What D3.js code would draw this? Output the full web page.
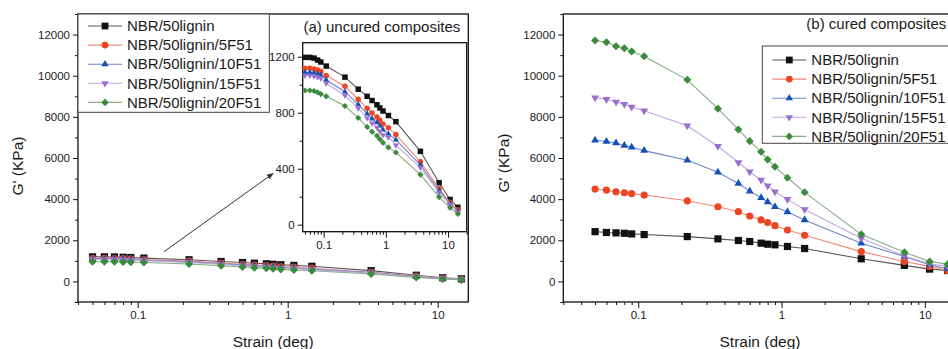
<!DOCTYPE html>
<html><head><meta charset="utf-8">
<script src="https://cdn.jsdelivr.net/npm/d3@7"></script>
<style>
html,body{margin:0;padding:0;background:#fff;}
text{font-family:"Liberation Sans",Arial,sans-serif;fill:#1a1a1a;}
</style></head>
<body><svg id="c" width="948" height="349"></svg>
<script>
// ---------- data ----------
const strain = [0.05,0.06,0.07,0.08,0.09,0.11,0.22,0.36,0.5,0.6,0.72,0.8,0.9,1.1,1.45,3.6,7.2,10.8,14.4];
const seriesNames = ["NBR/50lignin","NBR/50lignin/5F51","NBR/50lignin/10F51","NBR/50lignin/15F51","NBR/50lignin/20F51"];
// uncured composites, G' (KPa)
const uncured0  = [1195,1195,1190,1176,1162,1133,1054,968,917,887,857,834,812,780,736,524,300,180,124];
const uncured5  = [1118,1118,1113,1105,1096,1066,989,896,831,798,770,746,719,692,644,449,257,160,106];
const uncured10 = [1088,1088,1083,1076,1070,1033,950,858,793,757,730,706,678,649,606,428,242,150,97];
const uncured15 = [1066,1065,1060,1054,1046,1010,923,832,762,725,694,668,640,625,568,408,230,145,89];
const uncured20 = [959,959,955,945,933,917,848,763,699,664,635,611,586,552,516,358,197,121,76];
// cured composites, G' (KPa)
const cured0  = [2420,2380,2360,2340,2310,2280,2180,2070,1990,1940,1860,1810,1780,1700,1600,1100,780,600,530];
const cured5  = [4490,4440,4360,4310,4270,4200,3920,3630,3390,3180,2990,2860,2710,2500,2240,1450,970,730,530];
const cured10 = [6860,6800,6730,6610,6520,6360,5890,5310,4760,4390,4070,3860,3630,3380,2990,1860,1210,810,600];
const cured15 = [8930,8850,8720,8610,8480,8300,7570,6570,5780,5330,4930,4650,4360,3990,3500,2100,1240,860,730];
const cured20 = [11710,11630,11430,11340,11180,10950,9800,8400,7380,6820,6300,5930,5570,5040,4330,2290,1420,970,840];
// ticks
const yMajor = [0,2000,4000,6000,8000,10000,12000];
const yMinor = [-1000,1000,3000,5000,7000,9000,11000,13000];
const xMajor = [0.1,1,10];
const xMinor = [0.03,0.04,0.05,0.06,0.07,0.08,0.09,0.2,0.3,0.4,0.5,0.6,0.7,0.8,0.9,2,3,4,5,6,7,8,9,20];
const insetYMajor = [0,400,800,1200];
const insetYMinor = [200,600,1000];
// arrow annotation (data coords of main left panel)
const arrowFrom = [0.15,1450], arrowTo = [0.8,5250];

// ---------- styles ----------
const markerColors = ["#111111","#ee4422","#1550b5","#9a6fcf","#3a8c3a"];
const lineColors   = ["#555555","#f08a74","#6d86c8","#bfa6e0","#88aa88"];
const symbols = ["square","circle","triangle","triangleDown","diamond"];

const svg = d3.select("#c");

function symPath(kind, s){
  if(kind==="square") return d3.symbol(d3.symbolSquare, s*s)();
  if(kind==="circle") return d3.symbol(d3.symbolCircle, Math.PI*(s/2)*(s/2))();
  if(kind==="triangle"||kind==="triangleDown") return d3.symbol(d3.symbolTriangle, s*s*0.52)();
  if(kind==="diamond") return d3.symbol(d3.symbolSquare, s*s*0.62)();
}
function symTransform(kind){
  if(kind==="triangleDown") return " rotate(180)";
  if(kind==="diamond") return " rotate(45)";
  return "";
}

function drawSeries(g, x, y, data, msize){
  data.forEach((vals,i)=>{
    const pts = strain.map((s,j)=>[s,vals[j]]);
    g.append("path").attr("d", d3.line().x(d=>x(d[0])).y(d=>y(d[1]))(pts))
      .attr("fill","none").attr("stroke",lineColors[i]).attr("stroke-width",1.1);
    g.selectAll(null).data(pts).enter().append("path")
      .attr("d", symPath(symbols[i], msize))
      .attr("transform", d=>`translate(${x(d[0])},${y(d[1])})`+symTransform(symbols[i]))
      .attr("fill", markerColors[i]);
  });
}

function axes(g, x, y, ym, ymn, fs){
  const [x0,x1] = x.range(), [y1,y0] = y.range();
  g.append("g").attr("transform",`translate(0,${y1})`)
    .call(d3.axisBottom(x).tickValues(xMajor).tickFormat(d=>String(d)).tickSize(6).tickPadding(3));
  g.append("g").attr("transform",`translate(0,${y1})`)
    .call(d3.axisBottom(x).tickValues(xMinor.filter(v=>v>=x.domain()[0]&&v<=x.domain()[1])).tickFormat("").tickSize(3));
  g.append("g").attr("transform",`translate(${x0},0)`)
    .call(d3.axisLeft(y).tickValues(ym).tickFormat(d=>String(d)).tickSize(5).tickPadding(3));
  g.append("g").attr("transform",`translate(${x0},0)`)
    .call(d3.axisLeft(y).tickValues(ymn.filter(v=>v>=y.domain()[0]&&v<=y.domain()[1])).tickFormat("").tickSize(3));
  g.selectAll(".domain").remove();
  g.selectAll(".tick line").attr("stroke","#111").attr("stroke-width",1);
  g.selectAll(".tick text").attr("font-size",fs).attr("fill","#1a1a1a")
    .attr("font-family","'Liberation Sans',Arial,sans-serif");
  g.append("rect").attr("x",x0).attr("y",y0).attr("width",x1-x0).attr("height",y1-y0)
    .attr("fill","none").attr("stroke","#111").attr("stroke-width",1.3);
}

function legend(g, lx, ly, w, h, rowY0){
  g.append("rect").attr("x",lx).attr("y",ly).attr("width",w).attr("height",h)
    .attr("fill","#fff").attr("stroke","#444").attr("stroke-width",1);
  seriesNames.forEach((n,i)=>{
    const yy = ly + rowY0 + i*19.1;
    g.append("line").attr("x1",lx+10).attr("x2",lx+44).attr("y1",yy).attr("y2",yy)
      .attr("stroke",lineColors[i]).attr("stroke-width",1.1);
    g.append("path").attr("d",symPath(symbols[i],6.8))
      .attr("transform",`translate(${lx+27},${yy})`+symTransform(symbols[i])).attr("fill",markerColors[i]);
    g.append("text").attr("x",lx+49).attr("y",yy).attr("dy","0.35em").attr("font-size",15).text(n);
  });
}

// ---------- left panel (uncured) ----------
const uncured = [uncured0,uncured5,uncured10,uncured15,uncured20];
const cured = [cured0,cured5,cured10,cured15,cured20];

const L = {x0:78, x1:468.3, y0:14, y1:302};
const xL = d3.scaleLog().domain([0.04,16]).range([L.x0,L.x1]);
const yL = d3.scaleLinear().domain([-1000,13000]).range([L.y1,L.y0]);
const gL = svg.append("g");
axes(gL, xL, yL, yMajor, yMinor, 11.5);
drawSeries(gL, xL, yL, uncured, 7.2);

// arrow
svg.append("defs").append("marker").attr("id","ah").attr("viewBox","0 0 10 10")
  .attr("refX",9).attr("refY",5).attr("markerWidth",7).attr("markerHeight",7).attr("orient","auto")
  .append("path").attr("d","M0,1 L10,5 L0,9 z").attr("fill","#333");
gL.append("line").attr("x1",xL(arrowFrom[0])).attr("y1",yL(arrowFrom[1]))
  .attr("x2",xL(arrowTo[0])).attr("y2",yL(arrowTo[1]))
  .attr("stroke","#333").attr("stroke-width",1).attr("marker-end","url(#ah)");

legend(gL, L.x0, L.y0, 191.3, 98.3, 12);
gL.append("text").attr("x",303.5).attr("y",31.5).attr("font-size",15).text("(a) uncured composites");

// inset
const I = {x0:302.7, x1:466.7, y0:42.7, y1:231.7};
const xI = d3.scaleLog().domain([0.046,20]).range([I.x0,I.x1]);
const yI = d3.scaleLinear().domain([-50,1300]).range([I.y1,I.y0]);
const gI = svg.append("g");
gI.append("rect").attr("x",I.x0).attr("y",I.y0).attr("width",I.x1-I.x0).attr("height",I.y1-I.y0).attr("fill","#fff");
axes(gI, xI, yI, insetYMajor, insetYMinor, 11.5);
drawSeries(gI.append("g"), xI, yI, uncured, 5.5);

// axis titles left
svg.append("text").attr("transform","translate(18,166) rotate(-90)").attr("text-anchor","middle")
  .attr("dy","0.35em").attr("font-size",15.5).text("G' (KPa)");
svg.append("text").attr("x",(L.x0+L.x1)/2).attr("y",347).attr("text-anchor","middle")
  .attr("font-size",15.5).text("Strain (deg)");

// ---------- right panel (cured) ----------
const R = {x0:563.3, y0:14, y1:302};
const xR = d3.scaleLog().domain([0.03,20]).range([R.x0, R.x0 + Math.log10(20/0.03)*143.3]);
const yR = d3.scaleLinear().domain([-1000,13000]).range([R.y1,R.y0]);
const gR = svg.append("g");
axes(gR, xR, yR, yMajor, yMinor, 11.5);
drawSeries(gR, xR, yR, cured, 7.2);
gR.append("text").attr("x",806.3).attr("y",29).attr("font-size",15).text("(b) cured composites");
legend(gR, 762.3, 46, 220, 97.3, 14);

svg.append("text").attr("transform","translate(504,163) rotate(-90)").attr("text-anchor","middle")
  .attr("dy","0.35em").attr("font-size",15.5).text("G' (KPa)");
svg.append("text").attr("x",760).attr("y",347).attr("text-anchor","middle")
  .attr("font-size",15.5).text("Strain (deg)");
</script></body></html>
